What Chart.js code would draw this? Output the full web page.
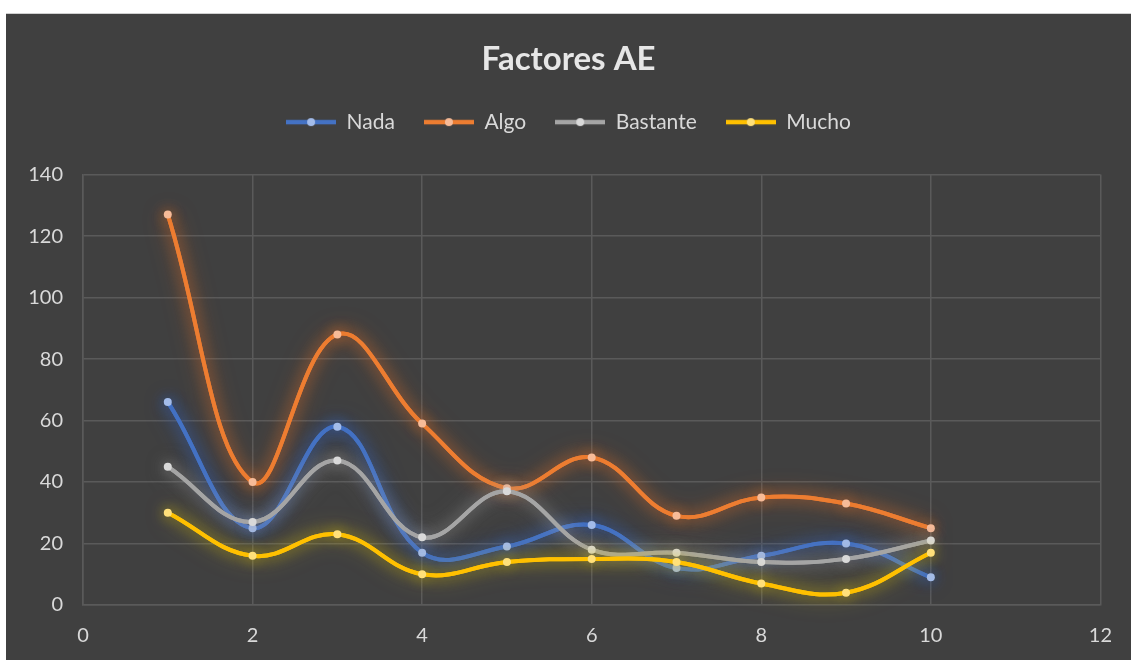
<!DOCTYPE html>
<html>
<head>
<meta charset="utf-8">
<script src="https://cdn.jsdelivr.net/npm/chart.js@4"></script>
<style>
  html, body { margin: 0; padding: 0; background: #ffffff; }
  #panel {
    position: absolute; left: 6px; top: 13px;
    width: 1125px; height: 647px;
    background: #404040;
    border-top: 1px solid #d0d0d0;
    box-sizing: border-box;
  }
  #chart { display: block; }
</style>
</head>
<body>
<div id="panel"><canvas id="chart" width="1125" height="646"></canvas></div>
<script>
// Factor numbers on the x axis
const factors = [1, 2, 3, 4, 5, 6, 7, 8, 9, 10];

// Answer counts per level
const nada     = [66, 25, 58, 17, 19, 26, 12, 16, 20, 9];
const algo     = [127, 40, 88, 59, 38, 48, 29, 35, 33, 25];
const bastante = [45, 27, 47, 22, 37, 18, 17, 14, 15, 21];
const mucho    = [30, 16, 23, 10, 14, 15, 14, 7, 4, 17];

const seriesNames = ['Nada', 'Algo', 'Bastante', 'Mucho'];
const seriesValues = [nada, algo, bastante, mucho];

const lineColors  = ['#4472C4', '#ED7D31', '#A5A5A5', '#FFC000'];
const pointColors = ['#A3BCEA', '#F7BB98', '#D9D9D9', '#FFE07A'];
const glowColors  = ['rgba(50,95,185,0.85)', 'rgba(220,110,40,0.75)', 'rgba(170,170,170,0.55)', 'rgba(230,200,0,0.6)'];

const textColor = '#D9D9D9';
const titleColor = '#E6E6E6';
const gridColor = '#5A5A5A';
const fontFamily = 'Lato, "Open Sans", "Noto Sans", sans-serif';

// Legend swatch: a short line with a dot in the middle
function makeSwatch(line, dot) {
  const c = document.createElement('canvas');
  c.width = 50; c.height = 10;
  const g = c.getContext('2d');
  g.strokeStyle = line; g.lineWidth = 4.5;
  g.beginPath(); g.moveTo(0, 5); g.lineTo(50, 5); g.stroke();
  g.fillStyle = dot;
  g.beginPath(); g.arc(25, 5, 4, 0, Math.PI * 2); g.fill();
  return c;
}
const swatches = seriesNames.map((_, i) => makeSwatch(lineColors[i], pointColors[i]));

const datasets = seriesNames.map((name, i) => ({
  label: name,
  data: factors.map((f, k) => ({ x: f, y: seriesValues[i][k] })),
  borderColor: lineColors[i],
  backgroundColor: pointColors[i],
  pointBackgroundColor: pointColors[i],
  pointBorderColor: pointColors[i],
  pointRadius: 4,
  pointBorderWidth: 0,
  borderWidth: 4,
  tension: 0.4,
  fill: false,
  order: seriesNames.length - i,
  glow: glowColors[i]
}));

// Soft glow around each series: an extra blurred pass under the line,
// then the regular line and points drawn with the same shadow.
const glowPlugin = {
  id: 'seriesGlow',
  beforeDatasetDraw(chart, args) {
    const ds = chart.data.datasets[args.index];
    const ctx = chart.ctx;
    ctx.save();
    ctx.shadowColor = ds.glow;
    ctx.shadowBlur = 22;
    ctx.shadowOffsetX = 0;
    ctx.shadowOffsetY = 0;
    args.meta.dataset.draw(ctx, chart.chartArea);
    ctx.shadowBlur = 14;
  },
  afterDatasetDraw(chart) {
    chart.ctx.restore();
  }
};

// Keep some room between the legend and the plot
const legendGap = {
  id: 'legendGap',
  beforeLayout(chart) {
    const lg = chart.legend;
    if (lg && !lg._gapPatched) {
      const fit = lg.fit.bind(lg);
      lg.fit = function () { fit(); this.height += 32; };
      lg._gapPatched = true;
    }
  }
};

new Chart(document.getElementById('chart'), {
  type: 'line',
  data: { datasets },
  plugins: [glowPlugin, legendGap],
  options: {
    responsive: false,
    animation: false,
    layout: { padding: 0 },
    plugins: {
      title: {
        display: true,
        text: 'Factores AE',
        color: titleColor,
        font: { family: fontFamily, size: 33, weight: 'bold' },
        padding: { top: 26, bottom: 3 }
      },
      legend: {
        display: true,
        position: 'top',
        labels: {
          usePointStyle: true,
          pointStyleWidth: 50,
          color: textColor,
          padding: 29,
          font: { family: fontFamily, size: 21 },
          generateLabels(chart) {
            return chart.data.datasets.map((ds, i) => ({
              text: ds.label,
              pointStyle: swatches[i],
              fillStyle: ds.borderColor,
              strokeStyle: ds.borderColor,
              lineWidth: 0,
              fontColor: textColor,
              hidden: !chart.isDatasetVisible(i),
              datasetIndex: i
            }));
          }
        }
      },
      tooltip: { enabled: false }
    },
    scales: {
      x: {
        type: 'linear',
        min: 0, max: 12,
        ticks: { stepSize: 2, color: textColor, font: { family: fontFamily, size: 20 }, padding: 19 },
        grid: { color: gridColor, lineWidth: 1.5, drawTicks: false },
        border: { color: gridColor, width: 1.5 },
        afterFit(s) { s.height = 55; }
      },
      y: {
        min: 0, max: 140,
        ticks: { stepSize: 20, color: textColor, font: { family: fontFamily, size: 20 }, padding: 20 },
        grid: { color: gridColor, lineWidth: 1.5, drawTicks: false },
        border: { color: gridColor, width: 1.5 },
        afterFit(s) { s.width = 77; }
      },
      // empty right-hand margin beside the plot
      margin: {
        type: 'linear',
        position: 'right',
        display: true,
        ticks: { display: false },
        grid: { display: false },
        border: { display: false },
        afterFit(s) { s.width = 30; }
      }
    }
  }
});
</script>
</body>
</html>
